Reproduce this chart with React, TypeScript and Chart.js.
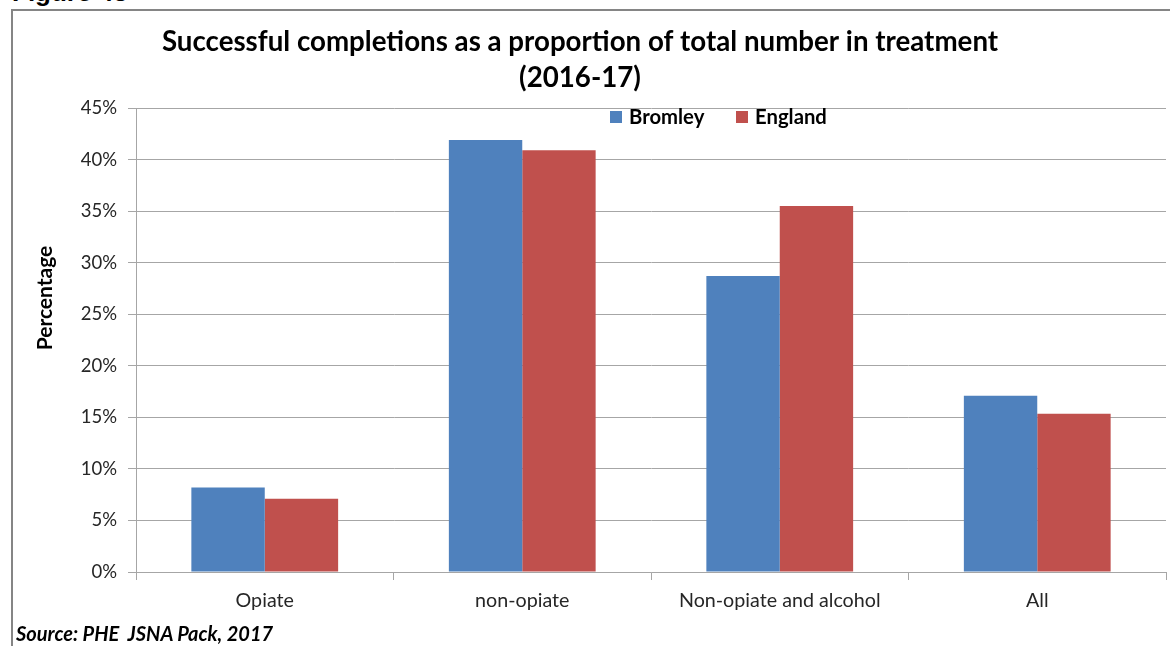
import React, { useEffect, useRef } from "react";
import { Chart, registerables } from "chart.js";

Chart.register(...registerables);

const categories = ["Opiate", "non-opiate", "Non-opiate and alcohol", "All"];
const bromley = [8.2, 41.9, 28.7, 17.1];
const england = [7.1, 40.9, 35.5, 15.35];
const seriesNames = ["Bromley", "England"];
const yTicks = [0, 5, 10, 15, 20, 25, 30, 35, 40, 45];
const titleLines = [
  "Successful completions as a proportion of total number in treatment",
  "(2016-17)",
];
const yTitle = "Percentage";

const BLUE = "#4F81BD";
const RED = "#C0504D";
const GRID = "#a6a6a6";

const overlayPlugin = {
  id: "overlay",
  afterDraw(chart: any) {
    const ctx = chart.ctx;
    ctx.save();
    // title
    ctx.fillStyle = "#000";
    ctx.font = "bold 27.7px Lato";
    ctx.textAlign = "center";
    ctx.textBaseline = "middle";
    ctx.fillText(titleLines[0], 580, 42);
    ctx.fillText(titleLines[1], 580, 78);
    // y title
    ctx.save();
    ctx.translate(45, 298);
    ctx.rotate(-Math.PI / 2);
    ctx.font = "bold 21px Lato";
    ctx.fillText(yTitle, 0, 0);
    ctx.restore();
    // legend
    const items = [
      { label: seriesNames[0], color: BLUE, x: 610 },
      { label: seriesNames[1], color: RED, x: 736 },
    ];
    ctx.font = "bold 20.3px Lato";
    ctx.textAlign = "left";
    for (const it of items) {
      ctx.fillStyle = it.color;
      ctx.fillRect(it.x, 111, 12, 12);
      ctx.fillStyle = "#000";
      ctx.fillText(it.label, it.x + 19, 117);
    }
    ctx.restore();
  },
};

export default function App() {
  const ref = useRef<HTMLCanvasElement | null>(null);
  useEffect(() => {
    if (!ref.current) return;
    const chart = new Chart(ref.current, {
      type: "bar",
      data: {
        labels: categories,
        datasets: [
          { label: seriesNames[0], data: bromley, backgroundColor: BLUE },
          { label: seriesNames[1], data: england, backgroundColor: RED },
        ],
      },
      options: {
        responsive: false,
        animation: false,
        devicePixelRatio: 1,
        layout: { padding: { left: 0, right: 4, top: 108, bottom: 0 } },
        plugins: {
          legend: { display: false },
          title: { display: false },
          tooltip: { enabled: false },
        },
        datasets: {
          bar: { categoryPercentage: 0.57, barPercentage: 1 },
        },
        scales: {
          x: {
            afterFit: (s: any) => {
              s.height = 74;
            },
            grid: {
              display: true,
              drawOnChartArea: false,
              drawTicks: true,
              tickLength: 8,
              color: GRID,
              offset: true,
            },
            border: { display: true, color: GRID },
            ticks: {
              color: "#262626",
              font: { family: "Lato", size: 19.7 },
              padding: 9,
              maxRotation: 0,
            },
          },
          y: {
            min: 0,
            max: 45,
            afterFit: (s: any) => {
              s.width = 136;
            },
            afterBuildTicks: (s: any) => {
              s.ticks = yTicks.map((v) => ({ value: v }));
            },
            grid: {
              color: GRID,
              tickLength: 8,
              drawTicks: true,
            },
            border: { display: true, color: GRID },
            ticks: {
              color: "#262626",
              font: { family: "Lato", size: 18.5 },
              padding: 11,
              callback: (v: any) => `${v}%`,
            },
            title: { display: false },
          },
        },
      },
      plugins: [overlayPlugin],
    });
    return () => chart.destroy();
  }, []);

  return (
    <div
      style={{
        position: "fixed",
        left: 0,
        top: 0,
        width: 1170,
        height: 646,
        overflow: "hidden",
        background: "#fff",
      }}
    >
      <div
        style={{
          position: "absolute",
          left: 12,
          top: -21,
          font: "bold 26px 'Liberation Sans', Arial, sans-serif",
          lineHeight: "26px",
          color: "#000",
          whiteSpace: "nowrap",
        }}
      >
        Figure 43
      </div>
      <div
        style={{
          position: "absolute",
          left: 11,
          top: 9,
          width: 1300,
          height: 800,
          borderLeft: "2px solid #858585",
          borderTop: "2px solid #858585",
        }}
      />
      <canvas
        ref={ref}
        width={1170}
        height={646}
        style={{ position: "absolute", left: 0, top: 0, width: 1170, height: 646 }}
      />
      <div
        style={{
          position: "absolute",
          left: 16,
          top: 621,
          font: "italic bold 20px Lato, sans-serif",
          lineHeight: "24px",
          color: "#000",
          whiteSpace: "pre",
        }}
      >
        {"Source: PHE  JSNA Pack, 2017"}
      </div>
    </div>
  );
}
